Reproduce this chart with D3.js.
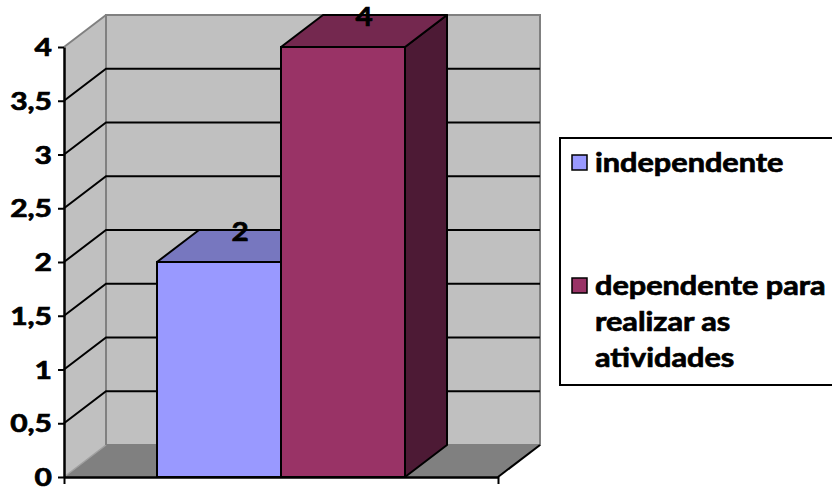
<!DOCTYPE html>
<html>
<head>
<meta charset="utf-8">
<script src="https://cdn.jsdelivr.net/npm/d3@7/dist/d3.min.js"></script>
<style>
  html, body { margin: 0; padding: 0; background: #fff; }
  svg { display: block; }
  text { font-family: Lato, "Open Sans", sans-serif; font-weight: bold; fill: #000; stroke: #000; stroke-width: 0.7px; }
</style>
</head>
<body>
<svg id="chart" width="832" height="488"></svg>
<script>
// Series and values
const seriesNames = ["independente", "dependente para realizar as atividades"];
const seriesValues = [2, 4];
const legendLines = [["independente"], ["dependente para", "realizar as", "atividades"]];
const yTicks = [0, 0.5, 1, 1.5, 2, 2.5, 3, 3.5, 4];
const gridValues = [0.5, 1, 1.5, 2, 2.5, 3, 3.5];

// Colours: front, top, side for each series
const frontColors = ["#9999FF", "#993366"];
const topColors = ["#7777BF", "#74284F"];
const sideColors = ["#5A5A9A", "#4D1A35"];

const svg = d3.select("#chart");

// Plot geometry and 3D depth offset
const x0 = 64, x1 = 498, yBase = 477, yTop = 47;
const dx = 42, dy = -32;
const sx = 1.25;   // horizontal stretch of axis text
const lsx = 1.18;  // horizontal stretch of legend text

const y = d3.scaleLinear().domain([0, 4]).range([yBase, yTop]);
const x = d3.scaleBand().domain(seriesNames).range([x0, x1]).paddingInner(0).paddingOuter(0.75);

const g = svg.append("g");

// Left side wall
g.append("path")
  .attr("d", `M${x0},${y(4)}L${x0 + dx},${y(4) + dy}L${x0 + dx},${y(0) + dy}L${x0},${y(0)}Z`)
  .attr("fill", "#C0C0C0").attr("stroke", "none");
// Back wall
g.append("rect")
  .attr("x", x0 + dx).attr("y", y(4) + dy)
  .attr("width", x1 - x0).attr("height", y(0) - y(4))
  .attr("fill", "#C0C0C0").attr("stroke", "#808080").attr("stroke-width", 2);
// Top edge of side wall
g.append("line")
  .attr("x1", x0).attr("y1", y(4)).attr("x2", x0 + dx).attr("y2", y(4) + dy)
  .attr("stroke", "#808080").attr("stroke-width", 2);
// Floor
g.append("path")
  .attr("d", `M${x0},${y(0)}L${x0 + dx},${y(0) + dy}L${x1 + dx},${y(0) + dy}L${x1},${y(0)}Z`)
  .attr("fill", "#808080").attr("stroke", "none");
g.append("line")
  .attr("x1", x0).attr("y1", y(0)).attr("x2", x0 + dx).attr("y2", y(0) + dy)
  .attr("stroke", "#A0A0A0").attr("stroke-width", 1.5);
g.append("line")
  .attr("x1", x0 + dx).attr("y1", y(0) + dy).attr("x2", x0 + dx).attr("y2", y(4) + dy)
  .attr("stroke", "#808080").attr("stroke-width", 2);
g.append("line")
  .attr("x1", x1).attr("y1", y(0)).attr("x2", x1 + dx).attr("y2", y(0) + dy)
  .attr("stroke", "#000").attr("stroke-width", 2);

// Gridlines: across the side wall and the back wall
const grid = g.append("g");
grid.selectAll("path.grid").data(gridValues).join("path")
  .attr("class", "grid")
  .attr("d", v => `M${x0},${y(v)}L${x0 + dx},${y(v) + dy}L${x1 + dx},${y(v) + dy}`)
  .attr("fill", "none").attr("stroke", "#000").attr("stroke-width", 2);

// Bars
const bars = g.append("g");
seriesNames.forEach((name, i) => {
  const v = seriesValues[i];
  const bx = x(name), bw = x.bandwidth();
  const yt = y(v), yb = y(0);
  const bg = bars.append("g");
  // side face
  bg.append("path")
    .attr("d", `M${bx + bw},${yt}L${bx + bw + dx},${yt + dy}L${bx + bw + dx},${yb + dy}L${bx + bw},${yb}Z`)
    .attr("fill", sideColors[i]).attr("stroke", "#000").attr("stroke-width", 2).attr("stroke-linejoin", "round");
  // top face
  bg.append("path")
    .attr("d", `M${bx},${yt}L${bx + dx},${yt + dy}L${bx + bw + dx},${yt + dy}L${bx + bw},${yt}Z`)
    .attr("fill", topColors[i]).attr("stroke", "#000").attr("stroke-width", 2).attr("stroke-linejoin", "round");
  // front face
  bg.append("rect")
    .attr("x", bx).attr("y", yt).attr("width", bw).attr("height", yb - yt)
    .attr("fill", frontColors[i]).attr("stroke", "#000").attr("stroke-width", 2);
});

// Value labels above the top faces
bars.selectAll("text.val").data(seriesValues).join("text")
  .attr("class", "val")
  .attr("text-anchor", "middle")
  .attr("font-size", 27)
  .attr("transform", (v, i) => {
    const cx = x(seriesNames[i]) + x.bandwidth() / 2 + dx / 2;
    const cy = y(v) + dy / 2 - 15;
    return `translate(${cx},${cy}) scale(1.1,1)`;
  })
  .attr("dy", "0.36em")
  .text(d => d);

// Y axis
const fmt = v => String(v).replace(".", ",");
const yAxis = svg.append("g").attr("transform", `translate(${x0},0)`)
  .call(d3.axisLeft(y).tickValues(yTicks).tickSize(6).tickSizeOuter(0).tickFormat(fmt));
yAxis.select(".domain").attr("stroke", "#000").attr("stroke-width", 2.5);
yAxis.selectAll(".tick line").attr("stroke", "#000").attr("stroke-width", 2);
yAxis.selectAll(".tick text")
  .attr("font-size", 24).attr("font-family", "Lato, sans-serif").attr("font-weight", "bold")
  .attr("x", -12 / sx).attr("dy", "0.36em")
  .attr("transform", `scale(${sx},1)`);

// X axis (single category, no labels)
const xAxis = svg.append("g").attr("transform", `translate(0,${yBase})`)
  .call(d3.axisBottom(d3.scaleLinear().domain([0, 1]).range([x0, x1]))
    .tickValues([0, 1]).tickSize(7).tickSizeOuter(0).tickFormat(""));
xAxis.select(".domain").attr("stroke", "#000").attr("stroke-width", 2.5);
xAxis.selectAll(".tick line").attr("stroke", "#000").attr("stroke-width", 2);

// Legend
const leg = svg.append("g").attr("transform", "translate(560,138)");
leg.append("rect").attr("x", 0).attr("y", 0).attr("width", 290).attr("height", 247)
  .attr("fill", "#fff").attr("stroke", "#000").attr("stroke-width", 2);
const itemY = [34, 157];
legendLines.forEach((lines, i) => {
  const it = leg.append("g").attr("transform", `translate(0,${itemY[i]})`);
  it.append("rect").attr("x", 12).attr("y", -17).attr("width", 15).attr("height", 15)
    .attr("fill", frontColors[i]).attr("stroke", "#000").attr("stroke-width", 1.5);
  lines.forEach((ln, j) => {
    it.append("text")
      .attr("font-size", 26)
      .attr("transform", `translate(35,${j * 36}) scale(${lsx},1)`)
      .text(ln);
  });
});
</script>
</body>
</html>
